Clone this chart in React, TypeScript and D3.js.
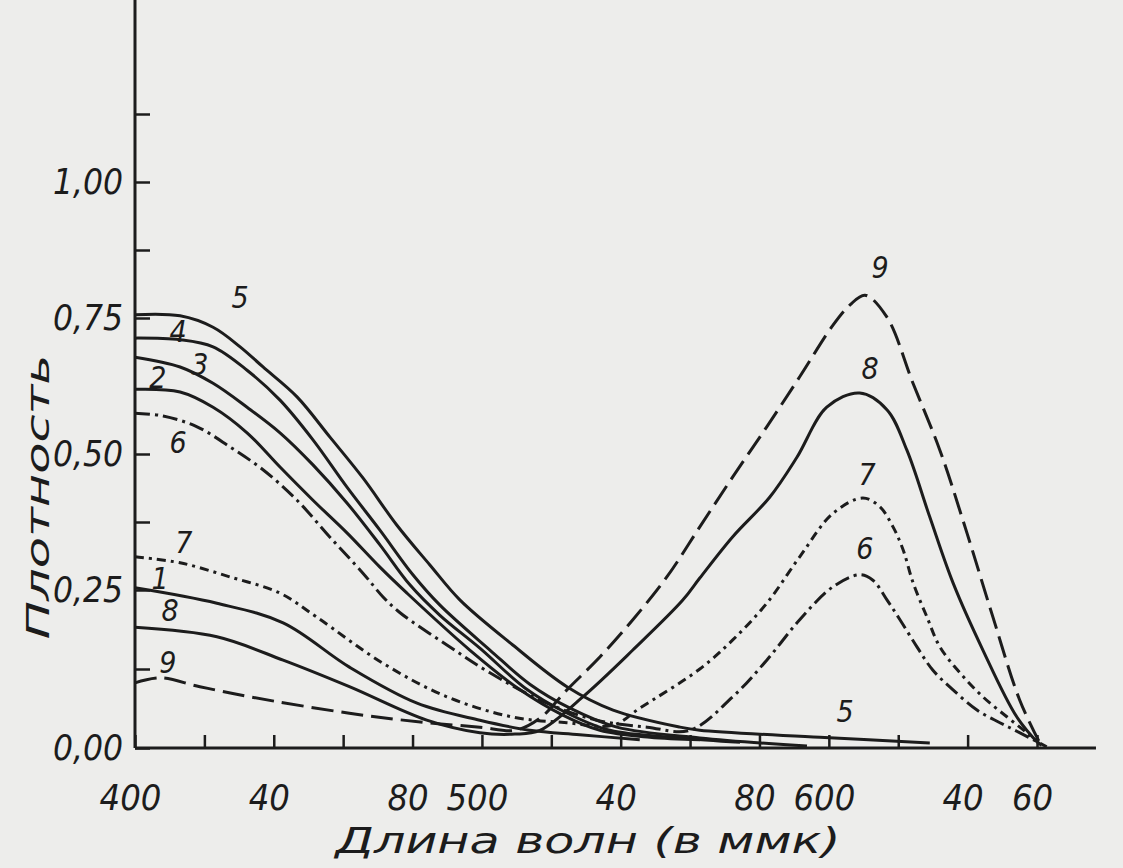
import { useEffect, useRef } from "react";
import * as d3 from "d3";

const width = 1123;
const height = 868;

const ink = "#1c1c1c";
const hand = "'Liberation Sans Narrow','DejaVu Sans Condensed','DejaVu Sans',sans-serif";

// wavelength (ммк) vs optical density
const curve1: [number, number][] = [
  [400, 0.254], [423.6, 0.229], [442.7, 0.198], [461.8, 0.128], [481.3, 0.071],
  [499.4, 0.044], [513.8, 0.028], [528.2, 0.021], [545.5, 0.013],
];
const curve2: [number, number][] = [
  [400, 0.619], [413, 0.614], [422.5, 0.586], [432.3, 0.539], [441.8, 0.476],
  [451.3, 0.415], [461.1, 0.355], [470.6, 0.292], [478.4, 0.245], [496.5, 0.155],
  [511, 0.092], [523.3, 0.052], [534, 0.028], [548.4, 0.017], [562.8, 0.013],
];
const curve3: [number, number][] = [
  [400, 0.678], [413, 0.66], [422.5, 0.63], [432.3, 0.586], [441.8, 0.539],
  [451.3, 0.48], [461.1, 0.41], [470.6, 0.333], [479.3, 0.259], [487.9, 0.21],
  [499.4, 0.158], [512.4, 0.095], [523.9, 0.057], [536.9, 0.028], [557.1, 0.016],
  [574.4, 0.009],
];
const curve4: [number, number][] = [
  [400, 0.713], [413, 0.71], [422.5, 0.697], [432.3, 0.654], [441.8, 0.599],
  [451.3, 0.526], [461.1, 0.439], [470.6, 0.36], [480.1, 0.278], [487.9, 0.226],
  [502.3, 0.155], [513.8, 0.101], [525.4, 0.063], [538.9, 0.033], [562.8, 0.016],
  [593.7, 0.003],
];
const curve5: [number, number][] = [
  [400, 0.756], [413, 0.754], [422.5, 0.733], [430.3, 0.697], [436.9, 0.66],
  [446.7, 0.605], [456.2, 0.531], [465.7, 0.456], [475.5, 0.369], [485, 0.296],
  [493.7, 0.234], [508.9, 0.163], [524.5, 0.097], [537.8, 0.06], [557.1, 0.033],
  [562.8, 0.028], [597.4, 0.017], [629.1, 0.008],
];
const curve6: [number, number][] = [
  [400, 0.575], [408.1, 0.57], [417.9, 0.55], [427.4, 0.513], [436.9, 0.471],
  [446.7, 0.415], [456.2, 0.347], [465.7, 0.281], [471.5, 0.239], [476.4, 0.214],
  [489.9, 0.163], [502.3, 0.119], [518.7, 0.071], [533.1, 0.044], [547.6, 0.033],
  [559.9, 0.028], [572.3, 0.081], [582.1, 0.139], [591.6, 0.203], [601.2, 0.256],
  [608.9, 0.278], [612.7, 0.268], [616.8, 0.234], [620.5, 0.203], [625.4, 0.16],
  [630, 0.123], [635.8, 0.092], [642.7, 0.06], [649.3, 0.04], [655.1, 0.024],
  [662.8, 0.002],
];
const curve7: [number, number][] = [
  [400, 0.311], [413, 0.3], [427.4, 0.274], [441.8, 0.245], [452.4, 0.207],
  [471.5, 0.134], [489.9, 0.081], [508.9, 0.049], [524.5, 0.04], [537.8, 0.036],
  [545.5, 0.063], [562.8, 0.125], [572.3, 0.171], [582.1, 0.229], [591.6, 0.311],
  [601.2, 0.391], [609.8, 0.419], [614.7, 0.403], [618.5, 0.366], [621.4, 0.324],
  [624.3, 0.263], [628.3, 0.207], [632, 0.16], [637.8, 0.119], [644.4, 0.081],
  [651.4, 0.049], [657.1, 0.024], [661.7, 0.002],
];
const curve8: [number, number][] = [
  [400, 0.191], [423.6, 0.176], [442.7, 0.139], [461.8, 0.097], [484.1, 0.044],
  [499.4, 0.024], [509.5, 0.022], [516.7, 0.028], [529.1, 0.081], [543.5, 0.155],
  [557.9, 0.234], [562.8, 0.272], [572.3, 0.348], [583, 0.421], [590.8, 0.494],
  [599.4, 0.586], [608.9, 0.612], [616.8, 0.581], [622.5, 0.507], [629.1, 0.384],
  [635.8, 0.263], [644.4, 0.155], [654.2, 0.049], [660.8, 0.005],
];
const curve9: [number, number][] = [
  [400, 0.103], [407.2, 0.111], [418.7, 0.097], [433.1, 0.081], [461.8, 0.055],
  [484.1, 0.04], [499.4, 0.033], [509.5, 0.028], [516.7, 0.047], [524.5, 0.092],
  [534, 0.144], [543.5, 0.203], [553.3, 0.274], [562.8, 0.366], [572.3, 0.458],
  [582.1, 0.55], [591.6, 0.642], [601.2, 0.737], [606.1, 0.774], [610.4, 0.792],
  [616.7, 0.752], [624.2, 0.631], [632, 0.507], [639.8, 0.355], [647.3, 0.207],
  [655, 0.076], [660.8, 0.008],
];

// curve numbers written next to the lines (wavelength, density of the label centre)
const curveLabels: { text: string; wl: number; d: number }[] = [
  { text: "5", wl: 430.3, d: 0.787 },
  { text: "4", wl: 412.4, d: 0.726 },
  { text: "3", wl: 418.7, d: 0.665 },
  { text: "2", wl: 406.6, d: 0.64 },
  { text: "6", wl: 412.4, d: 0.522 },
  { text: "7", wl: 414.1, d: 0.338 },
  { text: "1", wl: 407.2, d: 0.272 },
  { text: "8", wl: 410.1, d: 0.218 },
  { text: "9", wl: 409.5, d: 0.136 },
  { text: "9", wl: 614.8, d: 0.842 },
  { text: "8", wl: 611.9, d: 0.658 },
  { text: "7", wl: 611.0, d: 0.463 },
  { text: "6", wl: 610.4, d: 0.327 },
  { text: "5", wl: 604.7, d: 0.057 },
];

const xTicks = [400, 420, 440, 460, 480, 500, 520, 540, 560, 580, 600, 620, 640, 660];
const xLabelTicks = [400, 440, 480, 500, 540, 580, 600, 640, 660];
const xLabelTexts = ["400", "40", "80", "500", "40", "80", "600", "40", "60"];
const yMajor = [0, 0.25, 0.5, 0.75, 1];
const yMinor = [0.125, 0.375, 0.875, 1.125];
const yLabelTexts = ["0,00", "0,25", "0,50", "0,75", "1,00"];

const series = [
  { id: "1", data: curve1, dash: null },
  { id: "2", data: curve2, dash: null },
  { id: "3", data: curve3, dash: null },
  { id: "4", data: curve4, dash: null },
  { id: "5", data: curve5, dash: null },
  { id: "6", data: curve6, dash: "15 5 3 5" },
  { id: "7", data: curve7, dash: "9 5 3 5" },
  { id: "8", data: curve8, dash: null },
  { id: "9", data: curve9, dash: "22 8" },
];

const App = () => {
  const gxRef = useRef<SVGGElement | null>(null);
  const gyRef = useRef<SVGGElement | null>(null);

  const x = d3.scaleLinear().domain([400, 660]).range([135, 1037]);
  // the hand-drawn density axis is not evenly spaced, so piecewise
  const y = d3.scaleLinear().domain([0, 0.25, 0.5, 0.75, 1]).range([748, 590, 454, 318, 182]);

  const line = d3
    .line<[number, number]>()
    .x(d => x(d[0]))
    .y(d => y(d[1]))
    .curve(d3.curveCatmullRom.alpha(0.5));

  useEffect(() => {
    if (gxRef.current) {
      const labels = new Map(xLabelTicks.map((t, i) => [t, xLabelTexts[i]]));
      const g = d3.select(gxRef.current);
      g.selectAll("*").remove();
      g.call(
        d3.axisBottom(x)
          .tickValues(xTicks)
          .tickSize(-13)
          .tickPadding(36)
          .tickFormat(d => labels.get(+d) ?? "")
      );
      g.select(".domain").remove();
      g.attr("font-family", hand).attr("font-size", 36);
      g.selectAll("line").attr("stroke", ink).attr("stroke-width", 2.5);
      g.selectAll("text").attr("fill", ink).attr("font-style", "italic").attr("dx", -5);
    }
    if (gyRef.current) {
      const labels = new Map(yMajor.map((t, i) => [t, yLabelTexts[i]]));
      const g = d3.select(gyRef.current);
      g.selectAll("*").remove();
      g.call(
        d3.axisLeft(y)
          .tickValues([...yMajor, ...yMinor])
          .tickSize(-15)
          .tickPadding(12)
          .tickFormat(d => labels.get(+d) ?? "")
      );
      g.select(".domain").remove();
      g.attr("font-family", hand).attr("font-size", 35);
      g.selectAll("line").attr("stroke", ink).attr("stroke-width", 2.5);
      g.selectAll("text").attr("fill", ink).attr("font-style", "italic");
    }
  }, []);

  return (
    <svg
      width={width}
      height={height}
      viewBox={`0 0 ${width} ${height}`}
      style={{ position: "absolute", left: 0, top: 0 }}
    >
      <rect width={width} height={height} fill="#ededeb" />

      {series.map(s => (
        <path
          key={s.id}
          d={line(s.data) ?? ""}
          fill="none"
          stroke={ink}
          strokeWidth={3}
          strokeDasharray={s.dash ?? undefined}
          strokeLinecap="butt"
        />
      ))}

      {/* axes */}
      <line x1={x(400)} x2={x(400)} y1={y(0)} y2={y(1.34)} stroke={ink} strokeWidth={3} />
      <line x1={x(400)} x2={x(677)} y1={y(0)} y2={y(0)} stroke={ink} strokeWidth={3} />
      <g ref={gxRef} transform={`translate(0, ${y(0)})`} />
      <g ref={gyRef} transform={`translate(${x(400)}, 0)`} />

      {curveLabels.map((l, i) => (
        <text
          key={i}
          x={x(l.wl)}
          y={y(l.d)}
          textAnchor="middle"
          dominantBaseline="central"
          fontFamily={hand}
          fontStyle="italic"
          fontSize={30}
          fill={ink}
        >
          {l.text}
        </text>
      ))}

      <text
        transform={`translate(38, 497) rotate(-90)`}
        textAnchor="middle"
        dominantBaseline="central"
        fontFamily={hand}
        fontStyle="italic"
        fontSize={32}
        textLength={285}
        lengthAdjust="spacingAndGlyphs"
        fill={ink}
      >
        Плотность
      </text>
      <text
        x={588}
        y={840}
        textAnchor="middle"
        dominantBaseline="central"
        fontFamily={hand}
        fontStyle="italic"
        fontSize={36}
        textLength={505}
        lengthAdjust="spacingAndGlyphs"
        fill={ink}
      >
        Длина волн (в ммк)
      </text>
    </svg>
  );
};

export default App;
